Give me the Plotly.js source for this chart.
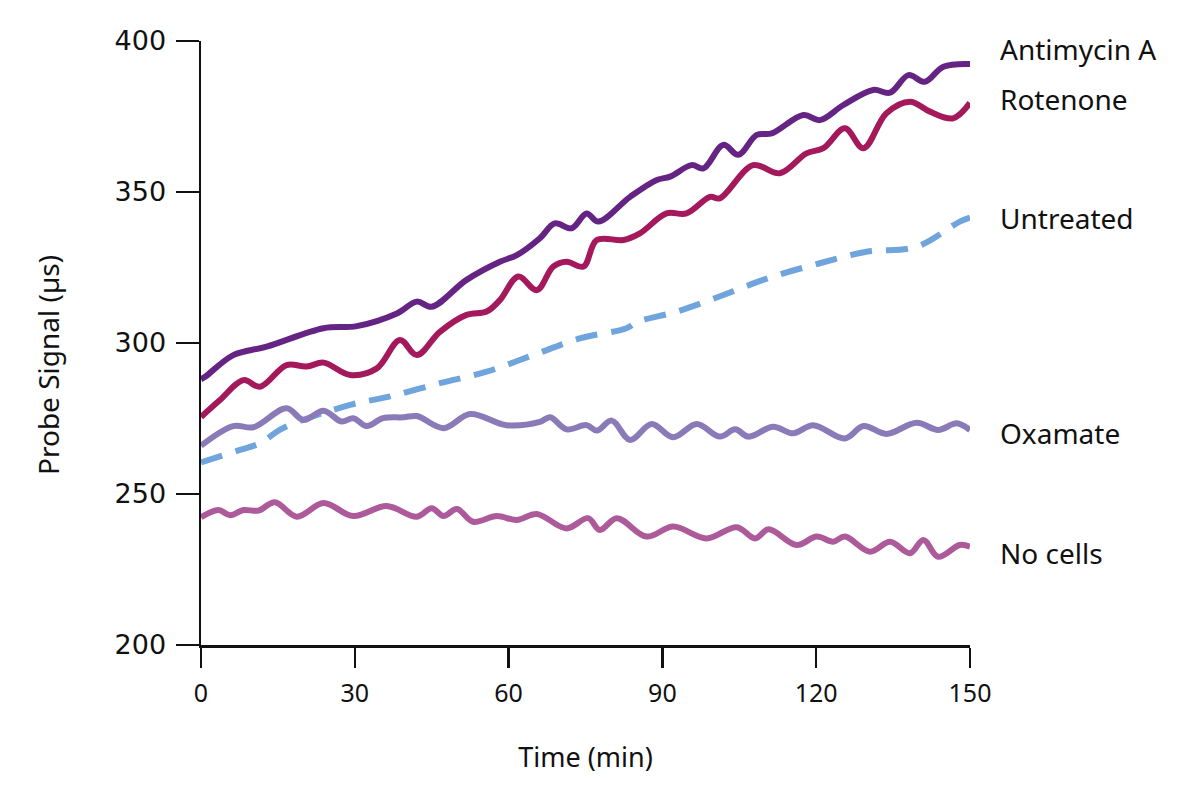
<!DOCTYPE html>
<html>
<head>
<meta charset="utf-8">
<script src="https://cdn.plot.ly/plotly-3.0.1.min.js"></script>
<style>html,body{margin:0;padding:0;background:#fff;}#chart{width:1200px;height:797px;}</style>
</head>
<body>
<div id="chart"></div>
<script>
// Data
const seriesNames = ["Antimycin A", "Rotenone", "Untreated", "Oxamate", "No cells"];

const antimycinT = [0, 0.8, 6.3, 12.8, 23.9, 30.4, 38.2, 42.1, 45, 51.8, 58.3, 61.6, 66.1, 69, 72.3, 75.2, 77.5, 83.7, 88.9, 91.5, 95.7, 98, 101.9, 104.8, 108.4, 111.3, 117.5, 120.7, 125.3, 131.1, 134.4, 138, 141.2, 144.8, 150];
const antimycinV = [288, 288.8, 296, 298.8, 304.9, 305.6, 309.8, 313.7, 312, 320.9, 326.9, 329.1, 334.7, 339.6, 338, 342.9, 340.2, 348.4, 354, 355.1, 358.9, 357.8, 365.6, 362.3, 368.9, 369.4, 375.5, 373.8, 378.8, 383.8, 382.9, 388.7, 386.5, 391.5, 392.4];

const rotenoneT = [0, 3.7, 8.3, 11.5, 16.7, 20.6, 23.9, 29.1, 34.3, 38.8, 42.1, 46.6, 51.8, 55.7, 58.3, 61.9, 65.5, 68.7, 71.3, 74.6, 77.2, 82.4, 85.6, 90.8, 94.7, 99.3, 101.2, 107.7, 112.9, 118.1, 121.4, 125.6, 129.2, 133.7, 138.3, 142.2, 146.7, 150];
const rotenoneV = [275.5, 281.1, 287.7, 285.5, 292.7, 292.2, 293.5, 289.4, 291.6, 301, 296, 303.7, 309.3, 310.4, 314.2, 322, 317.5, 325.3, 326.9, 325.3, 334.1, 334.1, 336.3, 342.9, 342.9, 348.4, 347.9, 358.9, 356.2, 362.8, 364.5, 371.1, 364.5, 376.1, 379.9, 376.6, 374.4, 379.5];

const untreatedT = [0, 7.6, 11.5, 16, 29.1, 36.9, 46.6, 55.7, 64.8, 73.9, 83, 85.3, 92.8, 101.9, 111, 120.7, 129.8, 139.6, 148, 150];
const untreatedV = [260.5, 264.6, 266.8, 271.8, 279.5, 282.3, 286.7, 290.5, 296, 301.5, 304.9, 307.1, 310.4, 315.9, 321.7, 326.4, 330.2, 331.9, 340.2, 341.5];

const oxamateT = [0, 6.3, 10.2, 16.7, 20, 23.9, 27.4, 29.7, 32.3, 35.5, 39.5, 42.1, 47.3, 52.5, 59.6, 66.1, 68.1, 71.3, 75.2, 77.2, 80.1, 83.7, 87.9, 92.1, 96.7, 101.2, 104.2, 106.8, 111.6, 115.5, 119.4, 125.6, 129.2, 133.7, 139.6, 143.8, 147.4, 150];
const oxamateV = [266, 272.5, 272.1, 278.4, 274.5, 277.6, 274, 275.1, 272.5, 275.1, 275.4, 275.8, 271.8, 276.5, 272.8, 273.9, 275.4, 271.4, 272.8, 271, 274.3, 267.9, 273.2, 268.8, 273.2, 269, 271.4, 269, 272.3, 270.1, 272.8, 268.4, 272.5, 269.9, 273.6, 271.2, 273.4, 271.2];

const noCellsT = [0, 3.4, 5.7, 8.3, 11.2, 14.4, 18.7, 23.9, 29.7, 36.2, 42.1, 45, 47.3, 49.9, 53.1, 57.7, 61.6, 65.5, 71.3, 75.5, 77.8, 81.1, 86.9, 92.1, 98.6, 104.5, 108.1, 110.7, 116.2, 120.1, 123.3, 125.6, 130.5, 134.4, 138.3, 140.9, 143.8, 148, 150];
const noCellsV = [242.3, 244.7, 243, 244.7, 244.5, 247.3, 242.5, 247, 242.7, 246, 242.5, 245.3, 242.7, 245, 240.8, 242.7, 241.4, 243.4, 238.6, 242, 238.1, 242, 235.9, 239.2, 235.3, 239, 235.3, 238.3, 233.1, 235.9, 234.2, 235.9, 230.9, 234.2, 230.4, 234.8, 229.2, 233.1, 232.6];

const xTickVals = [0, 30, 60, 90, 120, 150];
const yTickVals = [200, 250, 300, 350, 400];
// label anchor values at right edge
const labelY = [397.4, 380.8, 341.4, 270.2, 230.5];

const colors = ["#652383", "#A3195B", "#6FA5DC", "#8A7AB8", "#AD5A9B"];
const FONT = "Noto Sans, Open Sans, sans-serif";

const xs = [antimycinT, rotenoneT, untreatedT, oxamateT, noCellsT];
const ys = [antimycinV, rotenoneV, untreatedV, oxamateV, noCellsV];

const traces = seriesNames.map((n, i) => ({
  x: xs[i], y: ys[i], name: n, type: "scatter", mode: "lines",
  line: {color: colors[i], width: 6, shape: "spline", smoothing: 1.0,
         dash: n === "Untreated" ? "22px,14px" : "solid"},
  cliponaxis: false, hoverinfo: "skip"
}));

const annotations = seriesNames.map((n, i) => ({
  xref: "paper", yref: "y", x: 1, y: labelY[i], xanchor: "left", yanchor: "middle",
  xshift: 28, text: n, showarrow: false,
  font: {family: FONT, size: 28, color: "#111"}
}));
// y-axis title as rotated annotation (positioned like the reference)
annotations.push({
  xref: "paper", yref: "paper", x: 0, y: 0.4636, xanchor: "center", yanchor: "middle",
  xshift: -153, textangle: -90, text: "Probe Signal (µs)", showarrow: false,
  font: {family: FONT, size: 28, color: "#111"}
});

const layout = {
  width: 1200, height: 797,
  margin: {l: 201, r: 230, t: 41, b: 152},
  paper_bgcolor: "#fff", plot_bgcolor: "#fff",
  showlegend: false,
  font: {family: FONT, color: "#111"},
  xaxis: {
    range: [0, 150], tickvals: xTickVals, ticktext: xTickVals.map(String),
    showgrid: false, zeroline: false, showline: true, linecolor: "#111", linewidth: 2.5,
    ticks: "outside", ticklen: 20, tickwidth: 2.5, tickcolor: "#111",
    ticklabelstandoff: 4,
    tickfont: {family: FONT, size: 25, color: "#111"},
    title: {text: "Time (min)", font: {family: FONT, size: 27, color: "#111"}, standoff: 41}
  },
  yaxis: {
    range: [200, 400], tickvals: yTickVals, ticktext: yTickVals.map(String),
    showgrid: false, zeroline: false, showline: true, linecolor: "#111", linewidth: 2.5,
    ticks: "outside", ticklen: 23, tickwidth: 2.5, tickcolor: "#111",
    ticklabelstandoff: 4,
    tickfont: {family: "DejaVu Sans, sans-serif", size: 27, color: "#111"}
  },
  annotations: annotations
};

Plotly.newPlot("chart", traces, layout, {staticPlot: true, displayModeBar: false});
</script>
</body>
</html>
